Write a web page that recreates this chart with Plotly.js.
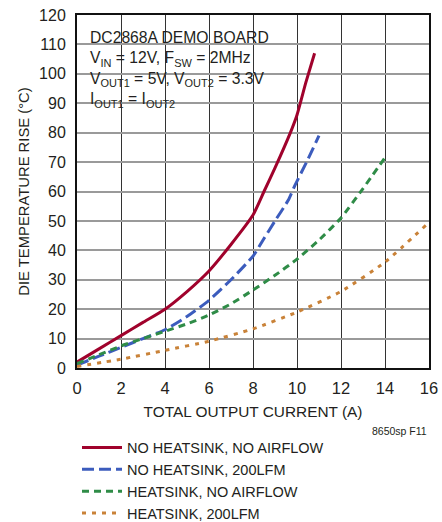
<!DOCTYPE html>
<html>
<head>
<meta charset="utf-8">
<script src="https://cdn.plot.ly/plotly-3.0.1.min.js"></script>
<style>
  html, body { margin: 0; padding: 0; background: #fff; }
  #chart { width: 442px; height: 522px; }
</style>
</head>
<body>
<div id="chart"></div>
<script>
// Data
const seriesNames = [
  "NO HEATSINK, NO AIRFLOW",
  "NO HEATSINK, 200LFM",
  "HEATSINK, NO AIRFLOW",
  "HEATSINK, 200LFM"
];
const redX    = [0, 1, 2, 3, 4, 5, 6, 7, 8, 8.5, 9, 9.7, 10, 10.4, 10.8];
const redY    = [2, 6.5, 11, 15.5, 20, 26, 33, 42, 52, 60, 68, 80, 86, 97, 107];
const blueX   = [0, 1, 2, 3, 4, 5, 6, 7, 8, 8.5, 9, 9.6, 9.9, 10.5, 11];
const blueY   = [1, 4, 7, 10, 13, 17.5, 23, 30, 38, 44, 50, 57, 62, 71, 79];
const greenX  = [0, 1, 2, 3, 4, 5, 6, 7, 8, 9, 10, 11, 12, 13, 14];
const greenY  = [1.5, 4.5, 7.5, 10, 12.5, 15, 18, 21.8, 26.5, 31.5, 37, 43.5, 51, 61, 71.5];
const orangeX = [0, 2, 4, 6, 8, 10, 12, 14, 16];
const orangeY = [0.5, 3, 6, 9.1, 13.3, 19, 26, 36, 49.5];
const xTicks  = [0, 2, 4, 6, 8, 10, 12, 14, 16];
const yTicks  = [0, 10, 20, 30, 40, 50, 60, 70, 80, 90, 100, 110, 120];
const noteLines = [
  "DC2868A DEMO BOARD",
  "V<sub>IN</sub> = 12V, F<sub>SW</sub> = 2MHz",
  "V<sub>OUT1</sub> = 5V, V<sub>OUT2</sub> = 3.3V",
  "I<sub>OUT1</sub> = I<sub>OUT2</sub>"
];
const figId = "8650sp F11";

const FONT = "'Liberation Sans', Arial, Helvetica, sans-serif";
const TXT = "#231f20";

const colors = ["#a0022c", "#3c5cbd", "#2f8c47", "#c98238"];
const dashes = ["solid", "12px,5px", "7px,5px", "4px,6px"];
const xs = [redX, blueX, greenX, orangeX];
const ys = [redY, blueY, greenY, orangeY];

const traces = seriesNames.map((name, i) => ({
  type: "scatter",
  mode: "lines",
  name: name,
  x: xs[i],
  y: ys[i],
  line: { color: colors[i], width: 3, dash: dashes[i], shape: "spline", smoothing: 0.5 },
  hoverinfo: "skip"
}));

const layout = {
  width: 442,
  height: 522,
  margin: { l: 77, r: 13, t: 15, b: 154, autoexpand: false },
  paper_bgcolor: "#fff",
  plot_bgcolor: "#fff",
  font: { family: FONT, size: 15.5, color: TXT },
  showlegend: true,
  legend: {
    x: 0.0, xanchor: "left",
    y: -(431.5 - 368) / 353, yanchor: "top",
    bgcolor: "rgba(0,0,0,0)",
    font: { family: FONT, size: 14.5, color: TXT },
    itemwidth: 40,
    tracegroupgap: 0
  },
  xaxis: {
    range: [0, 16],
    tickvals: xTicks,
    ticktext: xTicks.map(String),
    showgrid: true,
    gridcolor: "#333",
    gridwidth: 1,
    showline: true,
    linecolor: "#111",
    linewidth: 2,
    mirror: true,
    ticks: "",
    ticklabelstandoff: 4,
    zeroline: false,
    tickfont: { family: FONT, size: 16.5, color: TXT },
    title: { text: "TOTAL OUTPUT CURRENT (A)", font: { family: FONT, size: 15.4, color: TXT }, standoff: 10 },
    fixedrange: true
  },
  yaxis: {
    range: [0, 120],
    tickvals: yTicks,
    ticktext: yTicks.map(String),
    showgrid: true,
    gridcolor: "#9a9a9a",
    gridwidth: 1.5,
    showline: true,
    linecolor: "#111",
    linewidth: 2,
    mirror: true,
    ticks: "",
    ticklabelstandoff: 6,
    zeroline: false,
    tickfont: { family: FONT, size: 16, color: TXT },
    title: { text: "DIE TEMPERATURE RISE (°C)", font: { family: FONT, size: 14.8, color: TXT }, standoff: 6 },
    fixedrange: true
  },
  shapes: [
    {
      type: "rect", xref: "paper", yref: "paper", layer: "between",
      x0: (83 - 77) / 352, x1: (280 - 77) / 352, y0: (368 - 115) / 353, y1: (368 - 21) / 353,
      fillcolor: "#fff", line: { width: 0 }
    }
  ],
  annotations: [
    {
      xref: "paper", yref: "paper", x: (88 - 77) / 352, y: (368 - 27) / 353,
      xanchor: "left", yanchor: "top", align: "left", showarrow: false,
      text: noteLines.join("<br>"),
      font: { family: FONT, size: 15.7, color: TXT }
    },
    {
      xref: "paper", yref: "paper", x: 1, y: -(431 - 368) / 353,
      xanchor: "right", yanchor: "middle", showarrow: false,
      text: figId,
      font: { family: FONT, size: 10.5, color: TXT }
    }
  ]
};

Plotly.newPlot("chart", traces, layout, { displayModeBar: false });
</script>
</body>
</html>
